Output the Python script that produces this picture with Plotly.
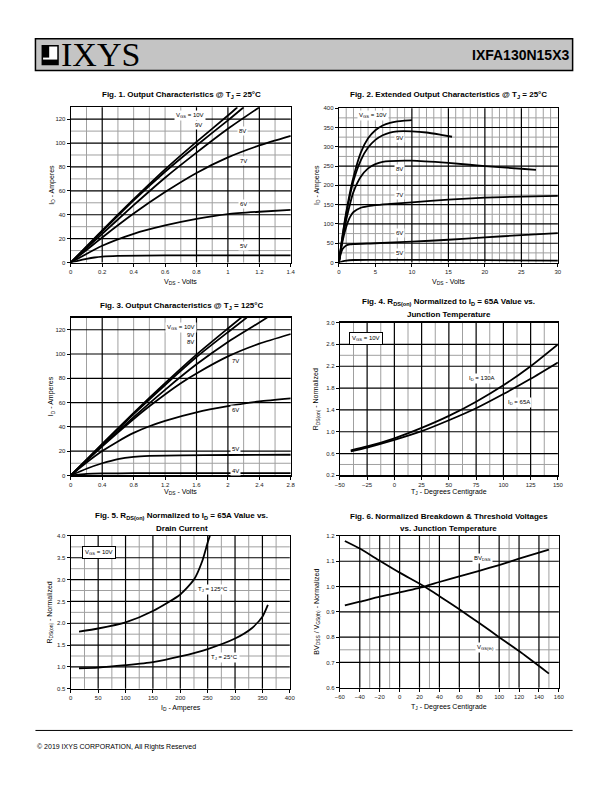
import plotly.graph_objects as go

W, H = 612, 792
FONT = "Liberation Sans, Arial, sans-serif"

# ---------------- Fig. 1 : Output characteristics @ 25C ----------------
f1_vds_10v = [0, 0.2, 0.4, 0.6, 0.8, 1.0, 1.06]
f1_id_10v = [0, 27, 53, 78, 101, 123, 130]
f1_vds_9v = [0, 0.2, 0.4, 0.6, 0.8, 1.0, 1.1]
f1_id_9v = [0, 26, 52, 76, 98, 119, 130]
f1_vds_8v = [0, 0.2, 0.4, 0.6, 0.8, 1.0, 1.2]
f1_id_8v = [0, 24, 48, 71, 92, 112, 130]
f1_vds_7v = [0, 0.2, 0.4, 0.6, 0.8, 1.0, 1.2, 1.4]
f1_id_7v = [0, 21, 41, 59, 75, 88, 98, 106]
f1_vds_6v = [0, 0.2, 0.4, 0.6, 0.8, 1.0, 1.2, 1.4]
f1_id_6v = [0, 14, 24, 31, 36.5, 40.5, 42.5, 44]
f1_vds_5v = [0, 0.05, 0.1, 0.15, 0.2, 0.3, 0.6, 1.0, 1.4]
f1_id_5v = [0, 1.6, 3, 4.2, 5, 5.6, 5.9, 6, 6]

# ---------------- Fig. 2 : Extended output characteristics @ 25C ----------------
f2_vds_10v = [0, 0.5, 1, 1.5, 2, 3, 4, 5, 6, 7, 8, 9, 10]
f2_id_10v = [0, 70, 130, 180, 222, 285, 322, 343, 355, 362, 366, 368, 369]
f2_vds_9v = [0, 0.5, 1, 1.5, 2, 3, 4, 5, 6, 7, 8, 10, 12, 14, 15.5]
f2_id_9v = [0, 68, 125, 172, 212, 265, 298, 318, 330, 337, 340, 340, 337, 331, 326]
f2_vds_8v = [0, 0.5, 1, 1.5, 2, 3, 4, 5, 6, 7, 10, 15, 20, 25, 27]
f2_id_8v = [0, 62, 110, 150, 183, 222, 244, 255, 261, 263, 264, 258, 250, 243, 240]
f2_vds_7v = [0, 0.5, 1, 1.5, 2, 3, 4, 5, 7, 10, 15, 20, 25, 30]
f2_id_7v = [0, 55, 92, 117, 131, 142, 146, 149, 152, 156, 163, 168, 171, 173]
f2_vds_6v = [0, 0.25, 0.5, 1, 1.5, 2, 5, 10, 15, 20, 25, 30]
f2_id_6v = [0, 22, 35, 44, 47, 48, 50, 54, 59, 65, 71, 76]
f2_vds_5v = [0, 0.5, 1, 2, 4, 10, 20, 30]
f2_id_5v = [0, 3, 5, 6.5, 7, 7, 6, 5]

# ---------------- Fig. 3 : Output characteristics @ 125C ----------------
f3_vds_10v = [0, 0.4, 0.8, 1.2, 1.6, 2.0, 2.17]
f3_id_10v = [0, 26, 51.5, 76, 99.5, 121, 130]
f3_vds_9v = [0, 0.4, 0.8, 1.2, 1.6, 2.0, 2.24]
f3_id_9v = [0, 25.5, 50.5, 74.5, 97.5, 118, 130]
f3_vds_8v = [0, 0.4, 0.8, 1.2, 1.6, 2.0, 2.4, 2.5]
f3_id_8v = [0, 24.5, 48, 70.5, 91.5, 110, 126, 130]
f3_vds_7v = [0, 0.4, 0.8, 1.0, 1.4, 1.6, 2.0, 2.4, 2.8]
f3_id_7v = [0, 24, 46.5, 57, 76, 84, 98, 108.5, 116.5]
f3_vds_6v = [0, 0.2, 0.4, 0.6, 0.8, 1.0, 1.2, 1.6, 2.0, 2.4, 2.8]
f3_id_6v = [0, 10.5, 20, 28, 35, 40.5, 45, 52, 57, 61, 63.5]
f3_vds_5v = [0, 0.2, 0.4, 0.6, 0.8, 1.0, 1.4, 2.0, 2.8]
f3_id_5v = [0, 5.5, 10, 13.5, 15.3, 16, 16.5, 16.8, 17]
f3_vds_4v = [0, 0.2, 0.4, 0.8, 2.8]
f3_id_4v = [0, 1.2, 1.6, 1.8, 1.8]

# ---------------- Fig. 4 : RDS(on) vs junction temperature ----------------
f4_tj = [-40, -25, 0, 25, 50, 75, 100, 125, 150]
f4_r_130a = [0.66, 0.73, 0.88, 1.07, 1.29, 1.55, 1.85, 2.2, 2.6]
f4_r_65a = [0.64, 0.71, 0.85, 1.01, 1.21, 1.43, 1.69, 1.97, 2.27]

# ---------------- Fig. 5 : RDS(on) vs drain current ----------------
f5_id_125 = [15, 50, 100, 150, 200, 225, 240, 250, 254]
f5_r_125 = [1.81, 1.88, 2.02, 2.28, 2.66, 3.0, 3.42, 3.85, 4.0]
f5_id_25 = [15, 50, 100, 150, 200, 250, 300, 330, 350, 360]
f5_r_25 = [0.97, 0.985, 1.04, 1.11, 1.24, 1.41, 1.65, 1.88, 2.15, 2.42]

# ---------------- Fig. 6 : BVDSS / VGS(th) vs temperature ----------------
f6_tj = [-55, -40, -20, 0, 25, 40, 60, 80, 100, 120, 150]
f6_bvdss = [0.926, 0.94, 0.96, 0.977, 1.0, 1.018, 1.04, 1.062, 1.085, 1.11, 1.146]
f6_vgsth = [1.18, 1.15, 1.102, 1.055, 1.0, 0.962, 0.91, 0.856, 0.8, 0.745, 0.656]

# ---------------- grid line values per chart ----------------
g1_vb = [0.2, 0.8, 1.0, 1.2]
g1_vg = [0.1, 0.3, 0.4, 0.5, 0.6, 0.7, 0.9, 1.1, 1.3]
g1_hb = [20, 40, 60, 80, 100, 120]
g1_hg = [10, 30, 50, 70, 90, 110]
g2_vb = [10, 15, 20, 25]
g2_vg = [v for v in range(1, 30) if v not in (10, 15, 20, 25)]
g2_hb = [50, 100, 150, 200, 250, 300, 350]
g2_hg = [25, 75, 125, 175, 225, 275, 325, 375]
g3_vb = [0.4, 1.6, 2.0]
g3_vg = [0.2, 0.6, 0.8, 1.0, 1.2, 1.4, 1.8, 2.2, 2.4, 2.6]
g3_hb = [20, 40, 60, 80, 100, 120]
g3_hg = [10]
g4_vb = [-25, 0, 25, 50, 75, 100, 125]
g4_vg = [-37.5, -12.5, 12.5, 37.5, 62.5, 87.5, 112.5, 137.5]
g4_hb = [0.6, 1.0, 1.4, 1.8, 2.2, 2.6]
g4_hg = [0.4, 2.4]
g5_vb = [50, 100, 150, 200, 250, 300, 350]
g5_vg = [25, 75, 125, 175, 225, 275, 325, 375]
g5_hb = [1.0, 1.5, 2.0, 2.5, 3.0, 3.5]
g5_hg = [0.75, 1.25, 1.75, 2.25, 2.75, 3.25, 3.75]
g6_vb = [-40, -20, 0, 20, 40, 60, 80, 100, 120, 140]
g6_vg = [-30, -10, 30, 110, 150]
g6_hb = [0.7, 0.8, 0.9, 1.0, 1.1]
g6_hg = [0.75, 1.15]

fig = go.Figure()

# panel boxes in pixels: (left, right, top, bottom)
panels = {
    1: (67, 291, 105, 261.5),
    2: (340, 563, 106, 261.5),
    3: (67, 291, 317, 476),
    4: (341, 563, 322, 476),
    5: (67, 290, 537, 691),
    6: (341, 564, 537, 690),
}
ranges = {
    1: ([0, 1.4], 0.2, None, [0, 130], 20, None),
    2: ([0, 30], 5, None, [0, 400], 50, None),
    3: ([0, 2.8], 0.4, None, [0, 130], 20, None),
    4: ([-50, 150], 25, None, [0.2, 3.0], 0.4, ".1f"),
    5: ([0, 400], 50, None, [0.5, 4.0], 0.5, ".1f"),
    6: ([-60, 160], 20, None, [0.6, 1.2], 0.1, ".1f"),
}
ytick0 = {1: 0, 2: 0, 3: 0, 4: 0.2, 5: 0.5, 6: 0.6}
xtick0 = {1: 0, 2: 0, 3: 0, 4: -50, 5: 0, 6: -60}

layout = dict(width=W, height=H, margin=dict(l=0, r=0, t=0, b=0),
              paper_bgcolor="white", plot_bgcolor="white", showlegend=False,
              font=dict(family=FONT, color="#111"))
tickfont = dict(family=FONT, size=6, color="#222")
for i, (l, r, t, b) in panels.items():
    xr, xd, xf, yr, yd, yf = ranges[i]
    sfx = "" if i == 1 else str(i)
    layout["xaxis" + sfx] = dict(domain=[l / W, r / W], range=xr, dtick=xd, tick0=xtick0[i],
                                 anchor="y" + sfx, showgrid=False, zeroline=False,
                                 showline=True, mirror=True, linecolor="black", linewidth=1.2,
                                 ticks="outside", ticklen=3, tickcolor="black",
                                 tickfont=tickfont, fixedrange=True)
    yax = dict(domain=[1 - b / H, 1 - t / H], range=yr, dtick=yd, tick0=ytick0[i],
               anchor="x" + sfx, showgrid=False, zeroline=False,
               showline=True, mirror=True, linecolor="black", linewidth=1.2,
               ticks="outside", ticklen=3, tickcolor="black",
               tickfont=tickfont, fixedrange=True)
    if yf:
        yax["tickformat"] = yf
    layout["yaxis" + sfx] = yax

shapes = []
grids = {
    1: (g1_vb, g1_vg, g1_hb, g1_hg),
    2: (g2_vb, g2_vg, g2_hb, g2_hg),
    3: (g3_vb, g3_vg, g3_hb, g3_hg),
    4: (g4_vb, g4_vg, g4_hb, g4_hg),
    5: (g5_vb, g5_vg, g5_hb, g5_hg),
    6: (g6_vb, g6_vg, g6_hb, g6_hg),
}
for i, (vb, vg, hb, hg) in grids.items():
    xs = "x" if i == 1 else "x%d" % i
    ys = "y" if i == 1 else "y%d" % i
    for vals, col, wd, vert in ((vg, "#a0a0a0", 1, True), (hg, "#a0a0a0", 1, False),
                                (vb, "#000000", 1.2, True), (hb, "#000000", 1.2, False)):
        for v in vals:
            if vert:
                shapes.append(dict(type="line", xref=xs, yref=ys + " domain", x0=v, x1=v, y0=0, y1=1,
                                   line=dict(color=col, width=wd), layer="below"))
            else:
                shapes.append(dict(type="line", xref=xs + " domain", yref=ys, x0=0, x1=1, y0=v, y1=v,
                                   line=dict(color=col, width=wd), layer="below"))

# header box and logo
shapes.append(dict(type="rect", xref="paper", yref="paper", x0=31 / W, x1=578 / W,
                   y0=1 - 68 / H, y1=1 - 36 / H, fillcolor="#c4c4c4",
                   line=dict(color="black", width=1.5), layer="below"))
shapes.append(dict(type="rect", xref="paper", yref="paper", x0=38 / W, x1=54 / W,
                   y0=1 - 62 / H, y1=1 - 43 / H, fillcolor="white",
                   line=dict(color="black", width=1.5)))
shapes.append(dict(type="rect", xref="paper", yref="paper", x0=38 / W, x1=45 / W,
                   y0=1 - 55 / H, y1=1 - 43 / H, fillcolor="black", line=dict(width=0)))
shapes.append(dict(type="rect", xref="paper", yref="paper", x0=38 / W, x1=54 / W,
                   y0=1 - 62 / H, y1=1 - 57 / H, fillcolor="black", line=dict(width=0)))
# footer rule
shapes.append(dict(type="line", xref="paper", yref="paper", x0=31 / W, x1=578 / W,
                   y0=1 - 733 / H, y1=1 - 733 / H, line=dict(color="black", width=1)))


def add(i, x, y):
    xs = "x" if i == 1 else "x%d" % i
    ys = "y" if i == 1 else "y%d" % i
    fig.add_trace(go.Scatter(x=x, y=y, mode="lines", xaxis=xs, yaxis=ys,
                             line=dict(color="black", width=1.8, shape="spline", smoothing=0.6),
                             hoverinfo="skip"))


add(1, f1_vds_10v, f1_id_10v); add(1, f1_vds_9v, f1_id_9v); add(1, f1_vds_8v, f1_id_8v)
add(1, f1_vds_7v, f1_id_7v); add(1, f1_vds_6v, f1_id_6v); add(1, f1_vds_5v, f1_id_5v)
add(2, f2_vds_10v, f2_id_10v); add(2, f2_vds_9v, f2_id_9v); add(2, f2_vds_8v, f2_id_8v)
add(2, f2_vds_7v, f2_id_7v); add(2, f2_vds_6v, f2_id_6v); add(2, f2_vds_5v, f2_id_5v)
add(3, f3_vds_10v, f3_id_10v); add(3, f3_vds_9v, f3_id_9v); add(3, f3_vds_8v, f3_id_8v)
add(3, f3_vds_7v, f3_id_7v); add(3, f3_vds_6v, f3_id_6v); add(3, f3_vds_5v, f3_id_5v)
add(3, f3_vds_4v, f3_id_4v)
add(4, f4_tj, f4_r_130a); add(4, f4_tj, f4_r_65a)
add(5, f5_id_125, f5_r_125); add(5, f5_id_25, f5_r_25)
add(6, f6_tj, f6_bvdss); add(6, f6_tj, f6_vgsth)

ann = []


def label(i, x, y, text, box=False, size=6):
    xs = "x" if i == 1 else "x%d" % i
    ys = "y" if i == 1 else "y%d" % i
    a = dict(xref=xs, yref=ys, x=x, y=y, text=text, showarrow=False,
             font=dict(family=FONT, size=size, color="black"), bgcolor="white", borderpad=1)
    if box:
        a.update(bordercolor="black", borderwidth=1, borderpad=2)
    ann.append(a)


def ptext(px, py, text, size=7, bold=False, angle=0, xanchor="center"):
    t = "<b>%s</b>" % text if bold else text
    ann.append(dict(xref="paper", yref="paper", x=px / W, y=1 - py / H, text=t, showarrow=False,
                    textangle=angle, xanchor=xanchor, yanchor="middle",
                    font=dict(family=FONT, size=size, color="black")))


# in-plot labels
label(1, 0.76, 123, "V<sub>GS</sub> = 10V"); label(1, 0.81, 115.5, "9V")
label(1, 1.09, 110, "8V"); label(1, 1.1, 85, "7V"); label(1, 1.1, 49, "6V"); label(1, 1.1, 13.5, "5V")
label(2, 4.7, 382, "V<sub>GS</sub> = 10V"); label(2, 8.3, 323, "9V"); label(2, 8.3, 242, "8V")
label(2, 8.3, 174, "7V"); label(2, 8.3, 76, "6V"); label(2, 8.3, 25, "5V")
label(3, 1.4, 122, "V<sub>GS</sub> = 10V"); label(3, 1.52, 115.5, "9V"); label(3, 1.52, 110, "8V")
label(3, 2.1, 94, "7V"); label(3, 2.1, 54, "6V"); label(3, 2.1, 22, "5V"); label(3, 2.1, 4, "4V")
label(4, -26, 2.70, "V<sub>GS</sub> = 10V", box=True)
label(4, 80, 1.97, "I<sub>D</sub> = 130A"); label(4, 114, 1.54, "I<sub>D</sub> = 65A")
label(5, 52, 3.63, "V<sub>GS</sub> = 10V", box=True)
label(5, 259, 2.78, "T<sub>J</sub> = 125°C"); label(5, 281, 1.21, "T<sub>J</sub> = 25°C")
label(6, 83, 1.11, "BV<sub>DSS</sub>"); label(6, 86, 0.76, "V<sub>GS(th)</sub>")

# titles
ptext(180, 93, "Fig. 1. Output Characteristics @ T<sub>J</sub> = 25°C", 8, True)
ptext(452, 93, "Fig. 2. Extended Output Characteristics @ T<sub>J</sub> = 25°C", 8, True)
ptext(180, 305, "Fig. 3. Output Characteristics @ T<sub>J</sub> = 125°C", 8, True)
ptext(452, 301, "Fig. 4. R<sub>DS(on)</sub> Normalized to I<sub>D</sub> = 65A Value vs.", 8, True)
ptext(452, 314, "Junction Temperature", 8, True)
ptext(180, 517, "Fig. 5. R<sub>DS(on)</sub> Normalized to I<sub>D</sub> = 65A Value vs.", 8, True)
ptext(180, 530, "Drain Current", 8, True)
ptext(452, 517, "Fig. 6. Normalized Breakdown & Threshold Voltages", 8, True)
ptext(452, 530, "vs. Junction Temperature", 8, True)

# axis titles
ptext(179, 281, "V<sub>DS</sub> - Volts"); ptext(47, 183, "I<sub>D</sub> - Amperes", angle=-90)
ptext(452, 281, "V<sub>DS</sub> - Volts"); ptext(317, 183, "I<sub>D</sub> - Amperes", angle=-90)
ptext(179, 493, "V<sub>DS</sub> - Volts"); ptext(47, 396, "I<sub>D</sub> - Amperes", angle=-90)
ptext(452, 493, "T<sub>J</sub> - Degrees Centigrade"); ptext(317, 399, "R<sub>DS(on)</sub> - Normalized", angle=-90)
ptext(179, 710, "I<sub>D</sub> - Amperes"); ptext(46, 614, "R<sub>DS(on)</sub> - Normalized", angle=-90)
ptext(452, 709, "T<sub>J</sub> - Degrees Centigrade"); ptext(318, 613, "BV<sub>DSS</sub> / V<sub>GS(th)</sub> - Normalized", angle=-90)

# header and footer text
ann.append(dict(xref="paper", yref="paper", x=55 / W, y=1 - 52 / H, text="IXYS", showarrow=False,
                xanchor="left", yanchor="middle",
                font=dict(family="Liberation Serif, DejaVu Serif, serif", size=34, color="black")))
ann.append(dict(xref="paper", yref="paper", x=576 / W, y=1 - 52 / H, text="<b>IXFA130N15X3</b>",
                showarrow=False, xanchor="right", yanchor="middle",
                font=dict(family=FONT, size=14, color="black")))
ptext(31, 750, "© 2019 IXYS CORPORATION, All Rights Reserved", 7, xanchor="left")

layout["shapes"] = shapes
layout["annotations"] = ann
fig.update_layout(**layout)
fig.write_html("out.html", config={"displayModeBar": False, "staticPlot": True},
               post_script="document.body.style.margin='0';document.body.style.overflow='hidden';")
